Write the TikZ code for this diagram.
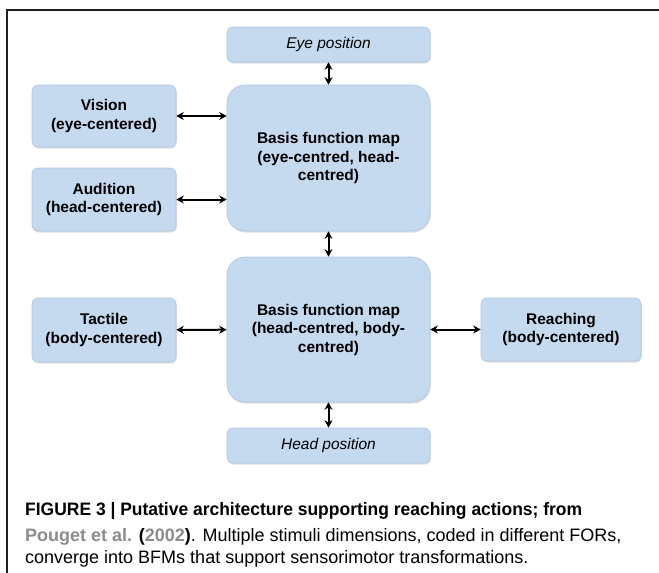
\documentclass[tikz,border=0pt]{standalone}
\usepackage{fontspec}
\setmainfont{Liberation Sans}
\usetikzlibrary{arrows.meta,shadows}

\definecolor{boxblue}{HTML}{C5D9EF}
\definecolor{boxedge}{HTML}{AEC7E4}
\definecolor{refgray}{HTML}{8C8C8C}
\definecolor{framegray}{HTML}{231F20}

\tikzset{
  mapbox/.style={draw=boxedge, fill=boxblue, line width=0.6pt, align=center,
    inner sep=0pt, drop shadow={shadow xshift=0.8pt, shadow yshift=-1.6pt, opacity=0.25},
    font=\bfseries\fontsize{15.5}{18.5}\selectfont},
  smallbox/.style={mapbox, rounded corners=6pt},
  bigbox/.style={mapbox, rounded corners=18pt},
  posbox/.style={smallbox, font=\itshape\fontsize{15.5}{18.5}\selectfont},
  link/.style={{Stealth[length=7.5pt,width=8pt]}-{Stealth[length=7.5pt,width=8pt]}, line width=2pt},
  caption/.style={anchor=base west, inner sep=0pt, font=\fontsize{18}{22}\selectfont}
}

\begin{document}
\begin{tikzpicture}[x=1pt, y=-1pt]
  \useasboundingbox (0,0) rectangle (659,573);
  \draw[framegray, line width=2.8pt] (7,573) -- (7,10) -- (659,10);

  \node[posbox, minimum width=203pt, minimum height=35pt] (eye) at (328.5,44.5) {Eye position};
  \node[bigbox, minimum width=203pt, minimum height=146pt] (bfmA) at (328.5,158)
    {Basis function map\\(eye-centred, head-\\centred)};
  \node[smallbox, minimum width=144pt, minimum height=62pt] (vision) at (104,116)
    {Vision\\(eye-centered)};
  \node[smallbox, minimum width=144pt, minimum height=63pt] (audition) at (104,199.5)
    {Audition\\(head-centered)};

  \node[bigbox, minimum width=203pt, minimum height=145pt] (bfmB) at (328.5,329.5)
    {Basis function map\\(head-centred, body-\\centred)};
  \node[smallbox, minimum width=144pt, minimum height=64pt] (tactile) at (104,330)
    {Tactile\\(body-centered)};
  \node[smallbox, minimum width=160pt, minimum height=63pt] (reaching) at (561,329.5)
    {Reaching\\(body-centered)};
  \node[posbox, minimum width=203pt, minimum height=35pt] (head) at (328.5,445.5) {Head position};

  % Pfeile
  \draw[link] (eye) -- (bfmA);
  \draw[link] (vision.east |- 0,116) -- (bfmA.west |- 0,116);
  \draw[link] (audition) -- (audition -| bfmA.west);
  \draw[link] (bfmA) -- (bfmB);
  \draw[link] (tactile) -- (bfmB);
  \draw[link] (bfmB) -- (reaching);
  \draw[link] (bfmB) -- (head);

  % Bildunterschrift
  \node[caption, font=\bfseries\fontsize{18}{22}\selectfont] (capA) at (25,515)
    {\scalebox{0.97}[1]{FIGURE 3 | Putative architecture supporting reaching actions; from}};
  \node[caption] (capB) at (25,541)
    {\textcolor{refgray}{\bfseries Pouget et al.} {\bfseries(\textcolor{refgray}{2002})}. Multiple stimuli dimensions, coded in different FORs,};
  \node[caption] (capC) at (25,563)
    {converge into BFMs that support sensorimotor transformations.};
\end{tikzpicture}
\end{document}
